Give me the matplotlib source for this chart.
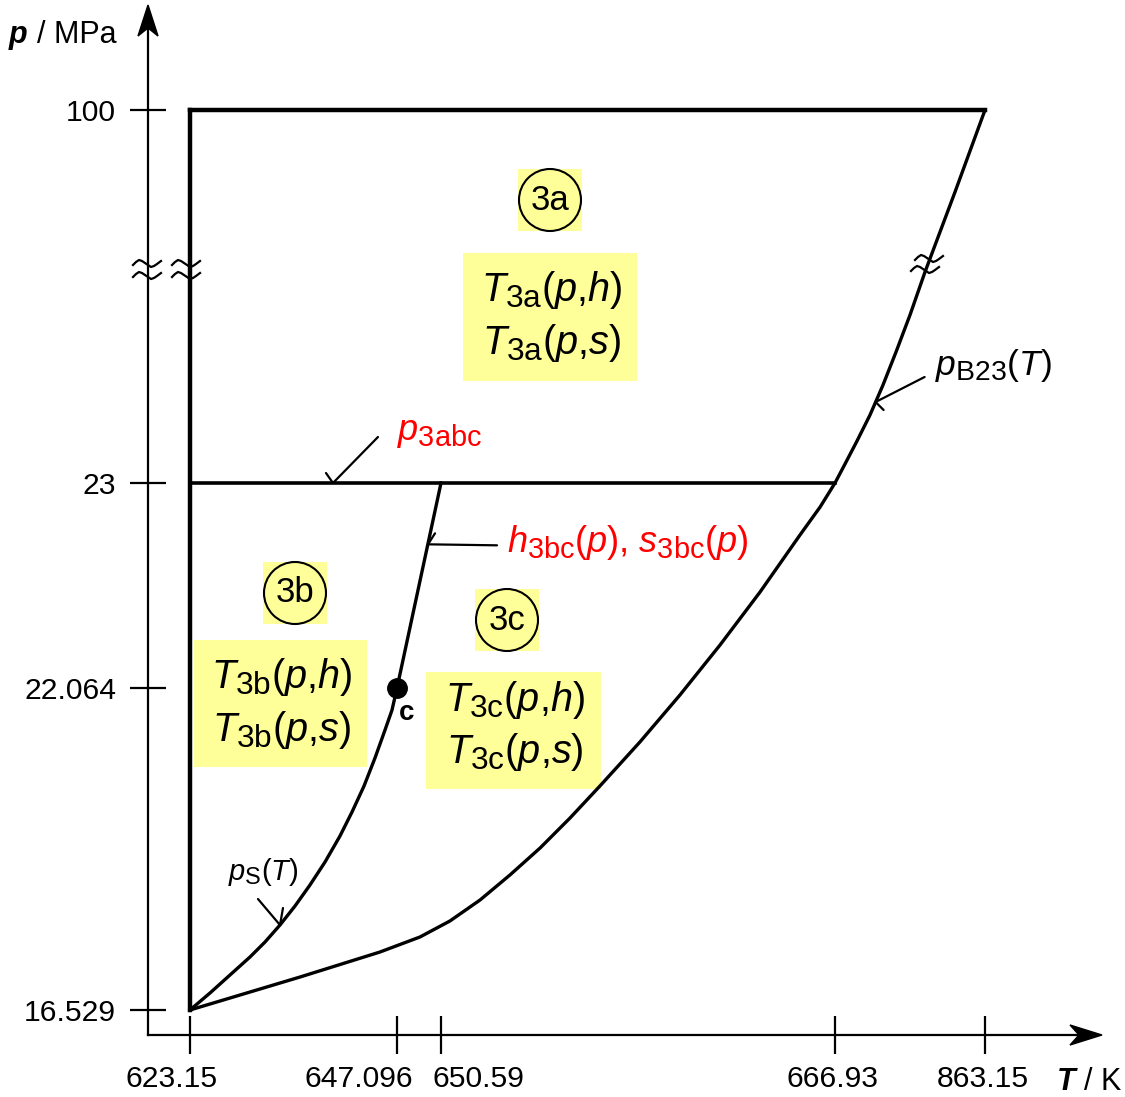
import numpy as np
import matplotlib
matplotlib.use("Agg")
import matplotlib.pyplot as plt
import matplotlib.patches as mpatches
import matplotlib.transforms as mtransforms
from matplotlib import _mathtext

# subscripts in the original are only a bit smaller than the main text
_mathtext.SHRINK_FACTOR = 0.8

plt.rcParams['font.family'] = ['Liberation Sans', 'DejaVu Sans']
plt.rcParams['mathtext.fontset'] = 'custom'
plt.rcParams['mathtext.rm'] = 'Liberation Sans'
plt.rcParams['mathtext.it'] = 'Liberation Sans:italic'
plt.rcParams['mathtext.bf'] = 'Liberation Sans:bold'

# --- data ---
T_ticks = [623.15, 647.096, 650.59, 666.93, 863.15]
T_labels = ["623.15", "647.096", "650.59", "666.93", "863.15"]
p_ticks = [16.529, 22.064, 23.0, 100.0]
p_labels = ["16.529", "22.064", "23", "100"]

# saturation line p_s(T) up to the critical point
T_sat = [623.15, 625.46, 627.78, 630.09, 631.83, 633.56, 635.30, 637.03, 638.77,
         640.50, 641.89, 643.28, 644.55, 645.71, 646.52, 647.096]
p_sat = [16.529, 16.821, 17.131, 17.440, 17.698, 17.990, 18.317, 18.678, 19.073,
         19.520, 19.932, 20.379, 20.861, 21.342, 21.686, 22.064]

# 3b / 3c boundary above the critical point
T_3bc = [647.096, 650.59]
p_3bc = [22.064, 23.0]

# B23 boundary p_B23(T)
T_b23 = [623.15, 635.88, 645.13, 648.92, 650.96, 652.21, 653.45, 654.70, 655.94,
         657.18, 658.84, 660.50, 662.16, 663.82, 665.48, 666.31, 666.93,
         680.01, 695.71, 712.71, 729.72, 746.73, 765.04, 784.66, 804.28,
         823.91, 843.53, 863.15]
p_b23 = [16.529, 17.096, 17.526, 17.784, 18.059, 18.420, 18.850, 19.314, 19.829,
         20.379, 21.136, 21.944, 22.260, 22.502, 22.763, 22.890, 23.0,
         26.92, 31.67, 37.04, 43.23, 50.04, 57.68, 66.56, 74.82,
         83.07, 91.54, 100.0]

T_c, p_c = 647.096, 22.064
T_min, T_max = 623.15, 863.15
p_max = 100.0
p_3abc = 23.0
T_3abc_end = 666.93

# --- schematic (broken) axes: where each tick sits, in pixels ---
W, H = 1125, 1097
T_pos = [190, 397, 441, 835, 985]
p_pos = [H - 1010, H - 688, H - 483, H - 110]
T_label_shift = [-18, -38, 37, -2, -2]   # px, labels are not centred on ticks


def piecewise(vals, pos):
    vals = np.asarray(vals, float)
    pos = np.asarray(pos, float)

    def build(a, b):
        s0 = (b[1] - b[0]) / (a[1] - a[0])
        s1 = (b[-1] - b[-2]) / (a[-1] - a[-2])

        def f(v):
            v = np.asarray(v, float)
            out = np.interp(v, a, b)
            out = np.where(v < a[0], b[0] + (v - a[0]) * s0, out)
            out = np.where(v > a[-1], b[-1] + (v - a[-1]) * s1, out)
            return out
        return f
    return build(vals, pos), build(pos, vals)


fig = plt.figure(figsize=(W / 100, H / 100), dpi=100)
ax = fig.add_axes([0, 0, 1, 1])
fx, ix = piecewise(T_ticks, T_pos)
fy, iy = piecewise(p_ticks, p_pos)
ax.set_xscale('function', functions=(fx, ix))
ax.set_yscale('function', functions=(fy, iy))

# pixel coordinates, y downwards (for labels and decorations)
px = mtransforms.Affine2D().scale(1 / W, -1 / H).translate(0, 1) + fig.transFigure

# --- region boundaries ---
ax.plot([T_min, T_min], [p_sat[0], p_max], color='k', lw=3.2, solid_capstyle='projecting')
ax.plot([T_min, T_max], [p_max, p_max], color='k', lw=3.2, solid_capstyle='projecting')
ax.plot([T_min, T_3abc_end], [p_3abc, p_3abc], color='k', lw=2.6)
ax.plot(T_sat, p_sat, color='k', lw=2.4, solid_joinstyle='round')
ax.plot(T_3bc, p_3bc, color='k', lw=2.4)
ax.plot(T_b23, p_b23, color='k', lw=2.4, solid_joinstyle='round')
ax.plot(T_c, p_c, 'o', color='k', ms=14)
ax.text(407, 713, 'c', transform=px, fontsize=20, fontweight='bold', ha='center', va='center')

# --- axes with arrows ---
for s in ax.spines.values():
    s.set_visible(False)
ax.spines['left'].set_position(('axes', 148 / W))
ax.spines['bottom'].set_position(('axes', (H - 1035) / H))
ax.plot([148, 148], [1035, 25], transform=px, color='k', lw=1.6, clip_on=False)
ax.plot([148, 1085], [1035, 1035], transform=px, color='k', lw=1.6, clip_on=False)
ax.add_patch(mpatches.Polygon([(148, 5), (138, 36), (148, 28), (158, 36)],
                              closed=True, transform=px, color='k', clip_on=False))
ax.add_patch(mpatches.Polygon([(1102, 1035), (1070, 1025), (1079, 1035), (1070, 1045)],
                              closed=True, transform=px, color='k', clip_on=False))

ax.set_xticks(T_ticks, [''] * len(T_ticks))
ax.set_yticks(p_ticks, p_labels)
ax.minorticks_off()
ax.tick_params(axis='x', direction='inout', length=27, width=1.6)
ax.tick_params(axis='y', direction='inout', length=26, width=1.6, labelsize=21.7, pad=10)

xlab_tr = mtransforms.blended_transform_factory(ax.transData, px)
for t, lab, dx in zip(T_ticks, T_labels, T_label_shift):
    tr = xlab_tr + mtransforms.ScaledTranslation(dx / 100, 0, fig.dpi_scale_trans)
    ax.text(t, 1079, lab, transform=tr, fontsize=21.7, ha='center', va='center')

ax.text(9, 43, 'p', transform=px, fontsize=22, fontweight='bold', style='italic', va='baseline')
ax.text(37, 43, '/ MPa', transform=px, fontsize=22, va='baseline')
ax.text(1057, 1090, 'T', transform=px, fontsize=22, fontweight='bold', style='italic', va='baseline')
ax.text(1084, 1090, '/ K', transform=px, fontsize=22, va='baseline')

# --- axis breaks ---
tilde_dx = [-14, -11, -8, -5, -2, 1, 4, 7, 10, 14]
tilde_dy = [1, -2, -4, -3, -1, 1, 3, 2, 0, -3]
for cx, cy in [(147, 264), (147, 276), (186, 264), (186, 276), (929, 259), (925, 270)]:
    ax.plot([cx + d for d in tilde_dx], [cy + d for d in tilde_dy], transform=px,
            color='k', lw=1.6, clip_on=False)

# --- region labels ---
yellow = '#ffff99'
regions = [
    ('3a', (550, 200), (463, 253, 174, 128), (552, 290), (552, 343)),
    ('3b', (295, 593), (194, 640, 173, 127), (282, 677), (282, 730)),
    ('3c', (507, 620), (426, 672, 175, 117), (515, 700), (515, 752)),
]
for name, (cx, cy), (bx, by, bw, bh), l1, l2 in regions:
    ax.add_patch(mpatches.Rectangle((cx - 32, cy - 31), 64, 62, transform=px,
                                    facecolor=yellow, edgecolor='none'))
    ax.add_patch(mpatches.Circle((cx, cy), 31, transform=px, facecolor='none',
                                 edgecolor='k', lw=1.5))
    ax.text(cx, cy, name, transform=px, fontsize=25, ha='center', va='center')
    ax.add_patch(mpatches.Rectangle((bx, by), bw, bh, transform=px,
                                    facecolor=yellow, edgecolor='none'))
    ax.text(*l1, r'$T_{\mathrm{%s}}(p{,}h)$' % name, transform=px, fontsize=28.5,
            ha='center', va='center')
    ax.text(*l2, r'$T_{\mathrm{%s}}(p{,}s)$' % name, transform=px, fontsize=28.5,
            ha='center', va='center')


# --- leaders: line plus a short barb at the curve ---
def leader(xy, start, barb):
    kw = dict(textcoords='offset pixels',
              arrowprops=dict(arrowstyle='-', lw=1.6, color='k', shrinkA=0, shrinkB=0))
    ax.annotate('', xy=xy, xytext=start, **kw)
    ax.annotate('', xy=xy, xytext=barb, **kw)


leader((639.69, p_3abc), (45, 46), (-7, 10))
leader((720.04, 39.72), (49, 25), (8, -8))
leader((633.56, 17.99), (-22, 26), (3, 17))
leader((649.56, 22.72), (69, -1), (7, 11))

ax.text(397, 432, r'$p_{\mathrm{3abc}}$', transform=px, fontsize=26, color='red', va='center')
ax.text(507, 542, r'$h_{\mathrm{3bc}}(p){,}\ s_{\mathrm{3bc}}(p)$', transform=px,
        fontsize=26, color='red', va='center')
ax.text(935, 365, r'$p_{\mathrm{B23}}(T)$', transform=px, fontsize=25.5, va='center')
ax.text(228, 872, r'$p_{\mathrm{S}}(T)$', transform=px, fontsize=21, va='center')

ax.set_xlim(float(ix(0)), float(ix(W)))
ax.set_ylim(float(iy(0)), float(iy(H)))

fig.savefig('out.png', dpi=100)
